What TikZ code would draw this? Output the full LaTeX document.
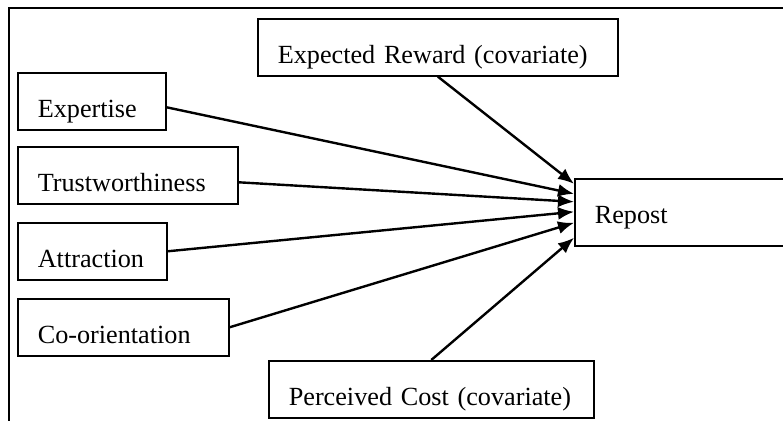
\documentclass[tikz,border=0pt]{standalone}
\usepackage{fontspec}
\setmainfont{Liberation Serif}
\usepackage{tikz}
\usetikzlibrary{arrows.meta,positioning}

\begin{document}
\begin{tikzpicture}[x=0.5pt,y=-0.5pt,
                    font=\fontsize{13.1}{15}\selectfont,
                    var/.style={draw=black,line width=0.8pt,anchor=north west,align=left,inner xsep=10pt,inner ysep=0pt,text height=22.5pt,text depth=6pt},
                    link/.style={-{Latex[length=8pt,width=6.5pt]},line width=1.2pt}
                ]
    \clip (0,0) rectangle (783,421);
    \draw[line width=0.8pt] (9,430) -- (9,8) -- (790,8);
    \node[var,text width=160pt] (reward) at (257,18) {Expected Reward (covariate)};
    \node[var,text width=54pt] (expertise) at (17,72) {Expertise};
    \node[var,text width=90pt] (trust) at (17,146) {Trustworthiness};
    \node[var,text width=54.5pt] (attraction) at (17,222) {Attraction};
    \node[var,text width=85.5pt] (coorient) at (17,298) {Co-orientation};
    \node[var,text width=142.5pt] (perceived) at (268,360) {Perceived Cost (covariate)};
    \node[var,text width=120pt,text depth=11pt] (repost) at (574,178) {Repost};
    \draw[link] (reward.south) -- ([yshift=14.25pt]repost.west);
    \foreach \src/\sy/\dy in {expertise/-3/9.25,trust/-3.5/5.25,attraction/0/0.25,coorient/0/-5.25}
        {
        \draw[link] ([yshift=\sy pt]\src.east) -- ([yshift=\dy pt]repost.west);
        }
    \draw[link] (perceived.north) -- ([yshift=-12.75pt]repost.west);
\end{tikzpicture}
\end{document}
